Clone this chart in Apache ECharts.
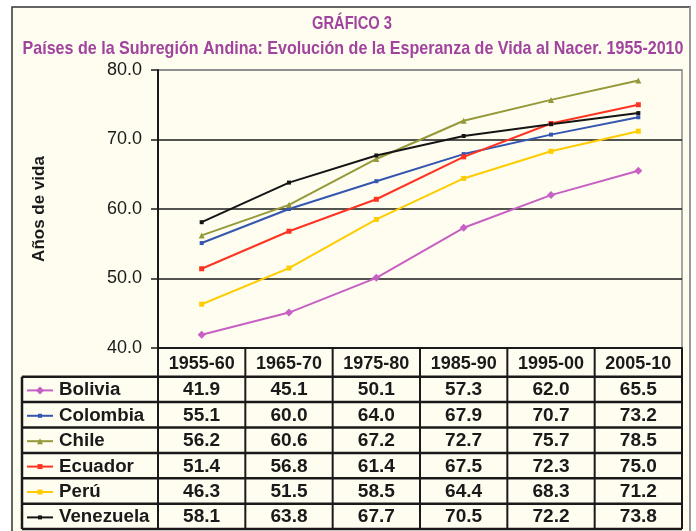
<!DOCTYPE html>
<html>
<head>
<meta charset="utf-8">
<script src="https://cdn.jsdelivr.net/npm/echarts@6/dist/echarts.min.js"></script>
<style>
html,body{margin:0;padding:0;background:#fff;}
#chart{width:696px;height:531px;}
</style>
</head>
<body>
<div id="chart"></div>
<script>
var periods = ["1955-60", "1965-70", "1975-80", "1985-90", "1995-00", "2005-10"];
var countries = ["Bolivia", "Colombia", "Chile", "Ecuador", "Perú", "Venezuela"];
var bolivia = [41.9, 45.1, 50.1, 57.3, 62.0, 65.5];
var colombia = [55.1, 60.0, 64.0, 67.9, 70.7, 73.2];
var chile = [56.2, 60.6, 67.2, 72.7, 75.7, 78.5];
var ecuador = [51.4, 56.8, 61.4, 67.5, 72.3, 75.0];
var peru = [46.3, 51.5, 58.5, 64.4, 68.3, 71.2];
var venezuela = [58.1, 63.8, 67.7, 70.5, 72.2, 73.8];
var yMin = 40, yMax = 80, yStep = 10;

var rows = [bolivia, colombia, chile, ecuador, peru, venezuela];
var colors = ["#C660C2", "#3556B0", "#95993A", "#FF3322", "#FFCC00", "#151515"];
var symbols = ["diamond", "rect", "triangle", "rect", "rect", "rect"];
var symSizes = [8, 4, 6, 5, 5, 4];

// layout
var W = 696, H = 531;
var gLeft = 158, gTop = 70, gRight = 682, gBottom = 348;
var colW = (gRight - gLeft) / periods.length;
var tLeft = 22, hdrBottom = 376.7, rowH = 25.4;
var cream = "#FFFDF0";
var font = "'Liberation Sans', Arial, sans-serif";

// horizontal squeeze so a text fits a given width (the original uses a condensed face)
var ctx = document.createElement("canvas").getContext("2d");
function fitScale(text, fnt, width){
	ctx.font = fnt;
	return width / ctx.measureText(text).width;
}

var chart = echarts.init(document.getElementById("chart"));

var series = countries.map(function(name, i){
	return {
		name: name,
		type: "line",
		data: rows[i],
		symbol: symbols[i],
		symbolSize: symSizes[i],
		showSymbol: true,
		lineStyle: {color: colors[i], width: 2},
		itemStyle: {color: colors[i]},
		emphasis: {disabled: true},
		z: 3
	};
});

var g = [];
// outer frame
g.push({type: "rect", z: -10, silent: true,
	shape: {x: 12, y: 7, width: 678, height: 540},
	style: {fill: cream, stroke: "#333", lineWidth: 1.5}});
g.push({type: "line", z: -9, silent: true,
	shape: {x1: 690, y1: 7, x2: 690, y2: H},
	style: {stroke: "#999", lineWidth: 2}});
// titles
var tFont = "bold 19px " + font;
var t1 = "GRÁFICO 3";
var t2 = "Países de la Subregión Andina: Evolución de la Esperanza de Vida al Nacer. 1955-2010";
g.push({type: "text", x: 352, y: 24, scaleX: fitScale(t1, tFont, 80),
	style: {text: t1, align: "center", verticalAlign: "middle", font: tFont, fill: "#A0449E"}});
g.push({type: "text", x: 353, y: 49, scaleX: fitScale(t2, tFont, 661),
	style: {text: t2, align: "center", verticalAlign: "middle", font: tFont, fill: "#A0449E"}});

// table grid
var tBottom = hdrBottom + rowH * rows.length;
function hline(x1, x2, y, w){
	g.push({type: "line", silent: true, shape: {x1: x1, y1: y, x2: x2, y2: y}, style: {stroke: "#1a1a1a", lineWidth: w}});
}
function vline(x, y1, y2, w){
	g.push({type: "line", silent: true, shape: {x1: x, y1: y1, x2: x, y2: y2}, style: {stroke: "#1a1a1a", lineWidth: w}});
}
hline(gLeft, gRight, gBottom, 2);
for (var r = 0; r <= rows.length; r++) hline(tLeft, gRight, hdrBottom + r * rowH, 2.5);
vline(tLeft, hdrBottom, tBottom, 2.5);
for (var c = 0; c <= periods.length; c++) vline(gLeft + c * colW, gBottom, tBottom, 2);

// table contents
var cellFont = "bold 18px " + font;
rows.forEach(function(vals, r){
	var cy = hdrBottom + r * rowH + rowH / 2 + 1;
	// legend key
	g.push({type: "line", silent: true, shape: {x1: 27, y1: cy, x2: 53, y2: cy}, style: {stroke: colors[r], lineWidth: 2}});
	var s = symSizes[r];
	if (symbols[r] === "diamond") {
		g.push({type: "polygon", silent: true, shape: {points: [[40, cy - s / 2], [40 + s / 2, cy], [40, cy + s / 2], [40 - s / 2, cy]]}, style: {fill: colors[r]}});
	} else if (symbols[r] === "triangle") {
		g.push({type: "polygon", silent: true, shape: {points: [[40, cy - s / 2], [40 + s / 2, cy + s / 2], [40 - s / 2, cy + s / 2]]}, style: {fill: colors[r]}});
	} else {
		g.push({type: "rect", silent: true, shape: {x: 40 - s / 2, y: cy - s / 2, width: s, height: s}, style: {fill: colors[r]}});
	}
	g.push({type: "text", x: 59, y: cy, scaleX: 1.04, style: {text: countries[r], align: "left", verticalAlign: "middle",
		font: cellFont, fill: "#1a1a1a"}});
	vals.forEach(function(v, c){
		g.push({type: "text", x: gLeft + colW * (c + 0.5), y: cy, scaleX: 1.06, style: {text: v.toFixed(1), align: "center",
			verticalAlign: "middle", font: cellFont, fill: "#1a1a1a"}});
	});
});

chart.setOption({
	backgroundColor: "#fff",
	animation: false,
	grid: {left: gLeft, top: gTop, right: W - gRight, bottom: H - gBottom, show: true,
		backgroundColor: cream, borderColor: "#888", borderWidth: 1.5},
	xAxis: {
		type: "category", data: periods, boundaryGap: true,
		axisLine: {show: true, lineStyle: {color: "#1a1a1a", width: 2}},
		axisTick: {show: false},
		axisLabel: {color: "#1a1a1a", fontSize: 18, fontWeight: "bold", fontFamily: font, margin: 7},
		splitLine: {show: false}
	},
	yAxis: {
		type: "value", min: yMin, max: yMax, interval: yStep,
		name: "Años de vida", nameLocation: "middle", nameGap: 110,
		nameTextStyle: {color: "#1a1a1a", fontSize: 17, fontWeight: "bold", fontFamily: font},
		axisLine: {show: true, lineStyle: {color: "#1a1a1a", width: 2}},
		axisTick: {show: true, inside: false, length: 7, lineStyle: {color: "#1a1a1a", width: 1.5}},
		axisLabel: {color: "#1a1a1a", fontSize: 18, fontFamily: font, margin: 16,
			formatter: function(v){ return v.toFixed(1); }},
		splitLine: {show: true, lineStyle: {color: ["#1a1a1a", "#1a1a1a", "#1a1a1a", "#1a1a1a", "#888"], width: 1.5}}
	},
	series: series,
	graphic: g
});
</script>
</body>
</html>
